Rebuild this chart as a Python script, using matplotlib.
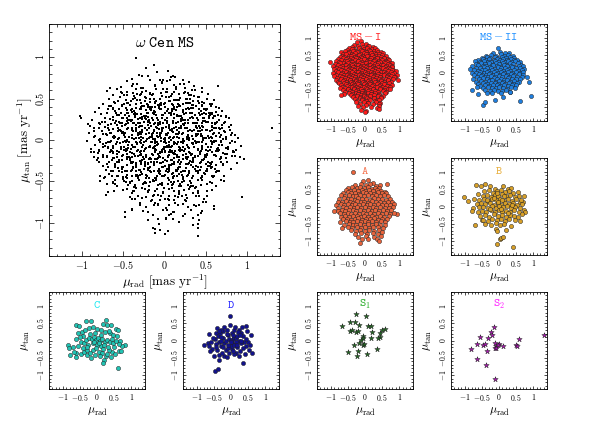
import numpy as np
import matplotlib
matplotlib.use("Agg")
import matplotlib.pyplot as plt
from matplotlib.ticker import FixedLocator, MultipleLocator

plt.rcParams["mathtext.fontset"] = "cm"
plt.rcParams["font.family"] = "DejaVu Serif"

# proper motions (mu_rad, mu_tan) in units of 0.01 mas/yr

MS1 = [
    (-23, 87), (-13, 90), (4, 83),
    (-31, 79), (-9, 82), (10, 77),
    (-39, 74), (-20, 77), (-6, 73), (13, 76), (22, 73),
    (-46, 71), (-33, 68), (-17, 72), (-3, 69), (7, 72), (19, 67), (30, 70),
    (-53, 64), (-38, 67), (-26, 63), (-11, 65), (-2, 62), (12, 66), (25, 63), (36, 65),
    (-70, 59), (-57, 62), (-46, 58), (-34, 61), (-22, 59), (-10, 62), (3, 58), (14, 61), (24, 57), (37, 60), (46, 58),
    (-63, 54), (-51, 57), (-37, 53), (-29, 56), (-15, 54), (-4, 57), (8, 53), (17, 56), (32, 54), (41, 52), (53, 55),
    (-67, 49), (-54, 52), (-47, 48), (-36, 51), (-24, 47), (-18, 50), (-6, 49), (2, 52), (13, 48), (19, 51), (31, 49),
    (40, 47), (51, 50), (60, 48),
    (-74, 44), (-61, 46), (-49, 43), (-41, 47), (-29, 45), (-20, 42), (-11, 46), (-1, 44), (7, 47), (16, 43), (26, 45),
    (33, 42), (46, 46), (55, 43),
    (-80, 39), (-65, 41), (-55, 38), (-42, 42), (-34, 39), (-27, 41), (-16, 38), (-8, 42), (1, 40), (9, 37), (18, 41),
    (28, 39), (35, 42), (48, 38), (56, 41), (66, 39),
    (-84, 34), (-69, 37), (-59, 33), (-46, 36), (-40, 34), (-30, 37), (-21, 33), (-13, 35), (-4, 38), (5, 33), (14, 36),
    (23, 34), (30, 37), (42, 33), (50, 36), (62, 34), (70, 35),
    (-102, 29), (-77, 31), (-63, 28), (-53, 32), (-43, 29), (-37, 31), (-27, 28), (-20, 32), (-10, 30), (-3, 27), (8, 31),
    (15, 29), (26, 32), (33, 28), (45, 31), (54, 29), (65, 30), (74, 28),
    (-88, 24), (-72, 26), (-59, 23), (-50, 27), (-40, 24), (-32, 25), (-25, 22), (-15, 27), (-8, 24), (3, 26), (10, 23),
    (21, 27), (28, 24), (39, 26), (47, 23), (59, 26), (66, 24), (78, 26),
    (-93, 19), (-79, 21), (-68, 18), (-55, 22), (-47, 19), (-37, 21), (-30, 17), (-20, 22), (-13, 19), (-2, 20), (5, 18),
    (16, 22), (23, 19), (34, 21), (42, 17), (53, 22), (61, 19), (72, 21), (80, 18),
    (-86, 14), (-72, 16), (-63, 13), (-51, 17), (-44, 14), (-34, 15), (-27, 12), (-16, 17), (-9, 14), (2, 16), (9, 13),
    (20, 17), (27, 14), (38, 16), (46, 12), (58, 17), (66, 14), (78, 16),
    (-91, 9), (-76, 11), (-66, 8), (-54, 12), (-48, 9), (-38, 11), (-31, 7), (-21, 12), (-14, 9), (-3, 11), (4, 8),
    (15, 12), (22, 9), (33, 11), (40, 7), (52, 12), (60, 9), (72, 11), (82, 8),
    (-86, 4), (-70, 6), (-61, 3), (-49, 7), (-43, 4), (-32, 6), (-26, 2), (-15, 7), (-8, 4), (3, 6), (10, 3),
    (21, 7), (28, 4), (39, 6), (47, 2), (59, 7), (67, 4), (80, 6), (89, 3),
    (-94, -1), (-78, 1), (-68, -2), (-55, 2), (-48, -1), (-37, 1), (-30, -3), (-19, 2), (-12, -1), (-1, 1), (6, -2),
    (17, 2), (24, -1), (35, 1), (42, -3), (54, 2), (62, -1), (75, 1), (85, -2),
    (-84, -6), (-71, -4), (-62, -7), (-50, -3), (-44, -6), (-33, -4), (-27, -8), (-16, -3), (-9, -6), (2, -4), (9, -7),
    (20, -3), (27, -6), (38, -4), (46, -8), (58, -3), (66, -6), (79, -4), (93, -7),
    (-89, -11), (-74, -9), (-65, -12), (-53, -8), (-46, -11), (-36, -9), (-29, -13), (-18, -8), (-11, -11), (0, -9),
    (7, -12), (18, -8), (25, -11), (36, -9), (44, -13), (56, -8), (64, -11), (77, -9), (87, -12),
    (-81, -16), (-66, -14), (-58, -17), (-47, -13), (-40, -16), (-30, -14), (-23, -18), (-12, -13), (-5, -16), (6, -14),
    (13, -17), (24, -13), (31, -16), (43, -14), (51, -18), (63, -13), (71, -16), (84, -14),
    (-85, -21), (-70, -19), (-61, -22), (-50, -18), (-43, -21), (-32, -19), (-25, -23), (-14, -18), (-7, -21), (4, -19),
    (11, -22), (22, -18), (29, -21), (40, -19), (48, -23), (60, -18), (68, -21), (82, -19), (96, -23),
    (-79, -26), (-64, -24), (-56, -27), (-45, -23), (-38, -26), (-27, -24), (-20, -28), (-9, -23), (-2, -26), (9, -24),
    (16, -27), (27, -23), (35, -26), (47, -24), (55, -28), (67, -23), (76, -26),
    (-75, -31), (-60, -29), (-52, -32), (-41, -28), (-35, -31), (-24, -29), (-17, -33), (-6, -28), (1, -31), (12, -29),
    (19, -32), (30, -28), (38, -31), (50, -29), (58, -33), (71, -30),
    (-71, -36), (-56, -34), (-48, -37), (-38, -33), (-31, -36), (-20, -34), (-13, -38), (-2, -33), (5, -36), (16, -34),
    (23, -37), (35, -33), (43, -36), (56, -34), (66, -38), (80, -35),
    (-67, -41), (-52, -39), (-45, -42), (-34, -38), (-27, -41), (-16, -39), (-9, -43), (2, -38), (9, -41), (20, -39),
    (28, -42), (40, -38), (49, -41), (63, -39), (72, -43),
    (-73, -46), (-58, -44), (-50, -47), (-39, -43), (-32, -46), (-21, -44), (-14, -48), (-3, -43), (4, -46), (15, -44),
    (23, -47), (35, -43), (44, -46), (58, -44), (68, -48),
    (-63, -51), (-49, -49), (-42, -52), (-31, -48), (-24, -51), (-13, -49), (-6, -53), (5, -48), (12, -51), (24, -49),
    (32, -52), (45, -48), (55, -51), (72, -49),
    (-57, -56), (-44, -54), (-37, -57), (-26, -53), (-19, -56), (-8, -54), (-1, -58), (10, -53), (17, -56), (29, -54),
    (38, -57), (52, -53), (62, -56),
    (-61, -61), (-46, -59), (-38, -62), (-27, -58), (-20, -61), (-9, -59), (-2, -63), (9, -58), (17, -61), (30, -59),
    (40, -62), (57, -60),
    (-71, -66), (-40, -64), (-32, -67), (-20, -63), (-13, -66), (-2, -64), (5, -68), (17, -63), (26, -66), (40, -64),
    (52, -67),
    (-36, -71), (-23, -69), (-15, -72), (-4, -68), (4, -71), (16, -69), (25, -73), (38, -68), (48, -71),
    (-30, -76), (-16, -74), (-8, -77), (5, -73), (13, -76), (26, -74), (36, -78), (47, -75),
    (-22, -81), (-8, -79), (2, -82), (16, -78), (28, -81), (42, -79),
    (-26, -86), (-2, -84), (10, -87), (32, -85), (44, -88),
    (-14, -91), (8, -89), (22, -92), (40, -90),
    (-20, -96), (2, -94), (42, -97),
    (-7, -101), (17, -99), (35, -102),
    (-12, -108), (4, -110), (41, -106),
    (0, -114),
]

MS2 = [
    (-3, 70),
    (-17, 56), (2, 58), (18, 55), (29, 57),
    (-38, 49), (-22, 51), (-10, 47), (6, 52), (15, 48), (27, 50), (40, 47),
    (-51, 42), (-35, 44), (-25, 41), (-12, 45), (-4, 42), (9, 44), (19, 41), (31, 45), (45, 42), (55, 30),
    (-62, 37), (-47, 39), (-37, 35), (-28, 38), (-16, 36), (-7, 39), (3, 35), (12, 38), (22, 36), (34, 39), (44, 35),
    (52, 37),
    (-70, 32), (-55, 30), (-44, 33), (-33, 31), (-22, 29), (-13, 33), (-2, 30), (8, 32), (17, 29), (26, 33), (37, 30),
    (48, 32), (60, 29),
    (-66, 25), (-52, 27), (-42, 24), (-30, 26), (-20, 23), (-9, 27), (0, 24), (11, 26), (20, 23), (31, 27), (41, 24),
    (54, 26), (64, 22),
    (-78, 19), (-60, 21), (-48, 18), (-38, 20), (-27, 17), (-17, 21), (-6, 19), (5, 17), (14, 21), (24, 18), (35, 20),
    (46, 17), (58, 20), (70, 18),
    (-85, 11), (-68, 14), (-55, 12), (-44, 15), (-34, 12), (-24, 14), (-13, 11), (-3, 15), (7, 12), (17, 14), (28, 11),
    (39, 15), (50, 12), (62, 14), (73, 10),
    (-74, 7), (-61, 5), (-50, 8), (-40, 6), (-29, 4), (-19, 8), (-9, 5), (2, 7), (12, 4), (22, 8), (33, 5), (44, 7),
    (56, 4), (68, 6),
    (-80, 0), (-66, -2), (-56, 1), (-45, -1), (-35, 2), (-25, -2), (-14, 1), (-4, -1), (6, 2), (16, -2), (27, 1),
    (37, -1), (49, 2), (60, -1), (71, 1),
    (-72, -7), (-59, -5), (-49, -8), (-39, -6), (-28, -4), (-18, -8), (-8, -5), (3, -7), (13, -4), (23, -8), (34, -5),
    (45, -7), (57, -4), (70, -6), (83, -14),
    (-64, -13), (-53, -11), (-42, -14), (-32, -12), (-22, -10), (-11, -14), (-1, -11), (9, -13), (19, -10), (30, -14),
    (41, -11), (53, -13), (66, -12), (88, -28),
    (-75, -18), (-58, -20), (-46, -17), (-36, -19), (-26, -21), (-15, -17), (-5, -20), (5, -18), (15, -21), (26, -17),
    (37, -20), (49, -18), (62, -19),
    (-67, -26), (-52, -24), (-41, -27), (-30, -25), (-19, -23), (-9, -27), (1, -24), (11, -26), (22, -23), (33, -27),
    (45, -24), (57, -26),
    (-60, -32), (-46, -30), (-35, -33), (-24, -31), (-13, -29), (-3, -33), (8, -30), (18, -32), (29, -29), (41, -33),
    (53, -31),
    (-55, -38), (-40, -36), (-29, -39), (-18, -37), (-7, -35), (4, -39), (14, -36), (25, -38), (37, -35), (50, -37),
    (-64, -43), (-47, -45), (-33, -42), (-21, -44), (-10, -46), (0, -42), (11, -44), (22, -47), (34, -43), (46, -45),
    (-78, -50), (-42, -51), (-26, -53), (-14, -50), (-3, -52), (9, -54), (21, -51), (32, -55),
    (-61, -62), (-34, -58), (-19, -60), (5, -59), (31, -57),
    (-13, -79), (12, -72), (60, -83), (94, -69),
    (-48, -93), (-40, -84),
]

GRP_A = [
    (-34, 99),
    (-6, 73), (24, 68), (65, 65), (8, 76),
    (-28, 63), (-12, 66), (3, 61), (14, 64), (33, 60), (45, 63),
    (-49, 54), (-38, 57), (-24, 52), (-14, 55), (-3, 53), (9, 56), (19, 51), (30, 54), (42, 52),
    (-56, 47), (-44, 45), (-33, 48), (-21, 44), (-10, 47), (0, 45), (11, 48), (22, 44), (35, 47), (48, 45), (58, 43),
    (-63, 39), (-51, 41), (-40, 38), (-29, 40), (-18, 37), (-7, 41), (4, 38), (15, 40), (26, 37), (38, 41), (50, 38),
    (62, 40),
    (-70, 32), (-57, 30), (-46, 33), (-36, 31), (-25, 29), (-14, 33), (-3, 30), (8, 32), (19, 29), (31, 33), (43, 30),
    (55, 32), (68, 29),
    (-76, 22), (-62, 24), (-51, 21), (-41, 23), (-30, 20), (-19, 24), (-8, 21), (3, 23), (14, 20), (25, 24), (37, 21),
    (49, 23), (61, 20), (73, 22),
    (-80, 14), (-67, 12), (-56, 15), (-45, 13), (-34, 11), (-24, 15), (-13, 12), (-2, 14), (9, 11), (20, 15), (31, 12),
    (43, 14), (55, 11), (67, 13), (79, 12),
    (-84, 5), (-71, 7), (-60, 4), (-49, 6), (-39, 3), (-28, 7), (-17, 4), (-6, 6), (5, 3), (16, 7), (27, 4), (38, 6),
    (50, 3), (62, 5), (74, 4), (85, 6),
    (-89, -14), (-78, -3), (-65, -1), (-54, -4), (-43, -2), (-33, -5), (-22, -1), (-11, -4), (0, -2), (11, -5),
    (22, -1), (33, -4), (45, -2), (57, -5), (69, -3), (82, -1),
    (-80, -12), (-68, -10), (-57, -13), (-47, -11), (-36, -9), (-25, -13), (-14, -10), (-3, -12), (8, -9), (19, -13),
    (30, -10), (41, -12), (53, -9), (65, -13), (77, -11), (92, -21),
    (-74, -20), (-62, -22), (-51, -19), (-40, -21), (-29, -18), (-18, -22), (-7, -19), (4, -21), (15, -18), (26, -22),
    (37, -19), (49, -21), (61, -18), (74, -22), (86, -19),
    (-70, -29), (-57, -27), (-46, -30), (-35, -28), (-24, -26), (-13, -30), (-2, -27), (9, -29), (20, -26), (32, -30),
    (44, -27), (56, -29), (69, -27),
    (-65, -37), (-52, -35), (-41, -38), (-30, -36), (-19, -34), (-8, -38), (3, -35), (14, -37), (26, -34), (38, -38),
    (51, -35), (64, -37),
    (-72, -45), (-56, -43), (-45, -46), (-34, -44), (-23, -42), (-12, -46), (-1, -43), (10, -45), (21, -42), (33, -46),
    (46, -43), (59, -45),
    (-60, -53), (-47, -51), (-36, -54), (-25, -52), (-14, -50), (-3, -54), (8, -51), (19, -53), (31, -50), (44, -54),
    (57, -52),
    (-68, -63), (-50, -60), (-37, -62), (-24, -59), (-12, -61), (-1, -58), (11, -62), (24, -60), (37, -58), (52, -61),
    (-42, -69), (-27, -70), (-14, -67), (0, -71), (13, -68), (27, -70), (42, -67),
    (-30, -78), (-12, -76), (5, -79), (22, -77), (38, -80), (50, -75),
    (-20, -87), (3, -85), (25, -89), (46, -86),
    (-8, -95), (10, -95), (34, -94), (41, -101),
    (-14, -106),
]

GRP_B = [
    (-66, 63), (-53, 58), (-40, 65), (-27, 58), (-13, 50), (12, 58), (26, 50), (36, 53), (55, 43), (74, 29),
    (-101, 27), (-90, 17), (-75, -5), (-80, -13), (-70, -53), (-51, -39), (-32, -43), (-8, -66), (-5, -72), (21, -68),
    (2, -95), (5, -91), (12, -87), (-5, -109), (41, -116), (60, -43), (74, -10), (76, -17), (70, 14), (60, 14),
    (-45, 45), (-30, 48), (-18, 40), (-5, 44), (5, 47), (18, 42), (30, 45), (42, 38),
    (-60, 35), (-48, 30), (-36, 33), (-24, 28), (-12, 34), (-2, 30), (9, 35), (20, 29), (33, 32), (47, 27), (58, 31),
    (-72, 22), (-58, 18), (-44, 21), (-31, 16), (-19, 23), (-8, 18), (3, 22), (14, 16), (25, 21), (38, 17), (50, 22),
    (63, 20),
    (-65, 8), (-53, 11), (-40, 6), (-27, 10), (-15, 5), (-4, 9), (7, 4), (17, 10), (29, 6), (41, 11), (53, 5), (66, 8),
    (-58, -2), (-46, 0), (-33, -4), (-21, 1), (-9, -3), (1, 2), (12, -2), (23, 1), (35, -4), (47, 0), (60, -3),
    (-62, -16), (-49, -12), (-37, -17), (-24, -11), (-12, -15), (-1, -10), (10, -16), (21, -12), (33, -17), (45, -11),
    (57, -15), (68, -22),
    (-55, -27), (-42, -24), (-29, -29), (-16, -23), (-4, -28), (8, -24), (19, -29), (31, -25), (43, -28), (55, -31),
    (-46, -38), (-20, -36), (-7, -40), (6, -35), (18, -41), (30, -37), (48, -40),
    (-40, -50), (-22, -52), (-10, -48), (4, -53), (16, -50), (35, -55),
    (-3, 12), (6, -6), (-14, 24), (15, 30), (-26, -6), (26, -20), (-6, 38), (10, 20), (-35, 18), (38, 5),
]

GRP_C = [
    (-60, 45), (-52, 42), (-33, 55), (-18, 57), (-11, 40), (-44, 24), (-54, 21), (-23, 36), (11, 31), (25, 58),
    (28, 45), (39, 21), (35, 26), (54, 33), (61, 29), (47, 16),
    (-86, -14), (-81, -22), (-62, 4), (-47, -3), (-38, -8), (-31, 2), (-23, 7), (-15, 4), (-9, 9), (-4, 2), (2, 6),
    (8, 0), (15, 4), (23, -4), (30, 2), (39, -3), (46, -8), (56, -1), (68, -1), (83, -13), (73, -17), (-25, -13),
    (-13, -8), (1, -13), (11, -17),
    (-78, -43), (-62, -37), (-47, -38), (-38, -34), (-60, -48), (-18, -51), (-6, -41), (6, -32), (15, -37), (20, -56),
    (17, -65), (27, -44), (44, -32), (52, -38), (63, -30), (71, -29), (60, -80), (35, -27), (-28, -27), (-13, -27),
    (-40, 12), (-20, 18), (-5, 22), (12, 15), (22, 24), (-50, 10), (-30, -18), (-2, -22), (20, -12), (32, -18),
    (45, 5), (58, 12), (-70, -20), (-55, -15), (-42, -22), (-8, -5), (5, -8), (18, -24), (30, -40), (40, -48),
    (-30, -42), (10, -46), (-20, -35), (50, -20), (65, -10), (-68, -32), (0, 32), (-36, 30), (42, 45), (18, 48),
]

GRP_D = [
    (-2, 72), (-65, 19), (-79, -13), (-68, -8), (-63, -15), (-58, -3), (-55, -24), (-48, 4), (-45, 23), (-41, 36),
    (-39, 14), (-34, -3), (-32, 21), (-29, -17), (-24, 26), (-22, 7), (-19, -8), (-16, -27), (-13, 31), (-10, 16),
    (-34, -42), (-36, -56), (-19, -46), (-13, -49), (-5, -37), (3, -8), (7, 4), (10, 10), (14, 7), (17, 14), (13, -13),
    (22, 0), (24, 31), (29, 21), (32, 39), (45, 41), (48, 26), (58, 16), (39, -3), (43, -17), (53, -27), (61, -35),
    (34, -22), (26, -29), (16, -35), (34, -64), (3, -25), (-48, -87), (-39, -83), (-29, 31), (3, 21),
    (-52, 8), (-44, -10), (-28, 0), (-15, -2), (-6, 5), (0, -15), (5, 15), (18, -20), (28, -8), (36, 12), (50, -5),
    (-60, -30), (-40, -28), (-25, -35), (-8, -22), (10, -40), (22, -45), (40, -40), (55, -12), (-50, -45), (-30, 10),
    (-12, 20), (8, 30), (20, 25), (-20, 40), (-36, 28), (-4, 45), (12, 40), (30, 0), (0, 0), (-22, -20), (-45, -20),
    (15, -5), (25, 15), (44, 5), (-10, -12), (6, -30), (-1, -3), (8, -14), (18, -12),
]

GRP_S1 = [
    (-27, 77), (3, 71), (-67, 41), (-45, 54), (-30, 54), (-17, 46), (-45, 26), (-37, 31), (-27, 25), (-20, 28),
    (10, 42), (17, 41), (20, 25), (50, 31), (58, 33), (45, 21), (43, 11), (38, 7), (-7, 13), (-5, 8), (-12, 1),
    (-17, -7), (18, 8), (-5, -14), (-33, -13), (-50, -32), (-20, -29), (-23, -46), (5, -38), (35, -24), (-2, -11),
]

GRP_S2 = [
    (-15, 40), (-22, 25), (-19, 15), (-56, 11), (-32, 8), (130, 15), (58, 3), (-63, -10), (-46, -12), (-41, -11),
    (-12, -7), (-1, -9), (-8, -17), (-3, -14), (12, -16), (50, -12), (52, -17), (-12, -23), (-82, -24), (-34, -29),
    (-63, -52), (-39, -71), (-12, -112), (-8, -22),
]

TICKS = [-1, -0.5, 0, 0.5, 1]
TICK_LABELS = [r"$-1$", r"$-0.5$", r"$0$", r"$0.5$", r"$1$"]
LIM = (-1.4, 1.4)


def to_xy(pts):
    arr = np.array(pts, dtype=float) / 100.0
    return arr[:, 0], arr[:, 1]


def style_axes(ax, fs, major, minor):
    ax.set_xlim(*LIM)
    ax.set_ylim(*LIM)
    ax.xaxis.set_major_locator(FixedLocator(TICKS))
    ax.yaxis.set_major_locator(FixedLocator(TICKS))
    ax.xaxis.set_minor_locator(MultipleLocator(0.1))
    ax.yaxis.set_minor_locator(MultipleLocator(0.1))
    ax.set_xticklabels(TICK_LABELS, fontsize=fs)
    ax.set_yticklabels(TICK_LABELS, fontsize=fs, rotation=90, va="center")
    ax.tick_params(which="both", direction="in", top=True, right=True, width=0.5)
    ax.tick_params(which="major", length=major, pad=2.5)
    ax.tick_params(which="minor", length=minor)
    for sp in ax.spines.values():
        sp.set_linewidth(0.6)


fig = plt.figure(figsize=(5.98, 4.26), dpi=100)
W, H = 598.0, 426.0


def add_ax(left, top, w, h):
    return fig.add_axes([left / W, 1 - (top + h) / H, w / W, h / H])


# ── big panel: the whole MS sample ──────────────────────────────
all_pts = MS1 + MS2 + GRP_A + GRP_B + GRP_C + GRP_D + GRP_S1 + GRP_S2
ax = add_ax(49, 24, 231, 232)
x, y = to_xy(all_pts)
ax.scatter(x, y, s=1.4, marker="s", c="black", linewidths=0)
style_axes(ax, 7.2, 3.5, 1.8)
ax.text(0.5, 0.918, r"$\omega\ \mathtt{Cen\ MS}$", transform=ax.transAxes,
        ha="center", va="center", fontsize=11)
ax.set_xlabel(r"$\mu_{\rm rad}\ [{\rm mas\ yr^{-1}}]$", fontsize=9.5, labelpad=0.5)
ax.set_ylabel(r"$\mu_{\rm tan}\ [{\rm mas\ yr^{-1}}]$", fontsize=9.5, labelpad=0)

# ── sub-population panels ───────────────────────────────────────
panels = [
    (MS1, r"$\mathtt{MS-I}$", "#ff1a1a", "#ff2020", "o", 317, 24),
    (MS2, r"$\mathtt{MS-II}$", "#1f7fe0", "#2090ff", "o", 451, 24),
    (GRP_A, r"$\mathtt{A}$", "#e8643c", "#f4724e", "o", 317, 158),
    (GRP_B, r"$\mathtt{B}$", "#d8a028", "#e8b040", "o", 451, 158),
    (GRP_C, r"$\mathtt{C}$", "#22c4b4", "#20e8f0", "o", 49, 292),
    (GRP_D, r"$\mathtt{D}$", "#12128c", "#2a2aff", "o", 183, 292),
    (GRP_S1, r"$\mathtt{S}_{1}$", "#1f6a1f", "#22aa22", "*", 317, 292),
    (GRP_S2, r"$\mathtt{S}_{2}$", "#b010b8", "#ff20ff", "*", 451, 292),
]

for pts, title, face, tcol, mk, left, top in panels:
    ax = add_ax(left, top, 96, 97)
    x, y = to_xy(pts)
    size = 16 if mk == "*" else 9
    ax.scatter(x, y, s=size, marker=mk, c=face, edgecolors="#202020",
               linewidths=0.35)
    style_axes(ax, 5.6, 2.4, 1.2)
    ax.text(0.5, 0.87, title, transform=ax.transAxes, ha="center",
            va="center", fontsize=8.5, color=tcol)
    ax.set_xlabel(r"$\mu_{\rm rad}$", fontsize=8.5, labelpad=1)
    ax.set_ylabel(r"$\mu_{\rm tan}$", fontsize=8.5, labelpad=2)

fig.savefig("out.png", dpi=100)
